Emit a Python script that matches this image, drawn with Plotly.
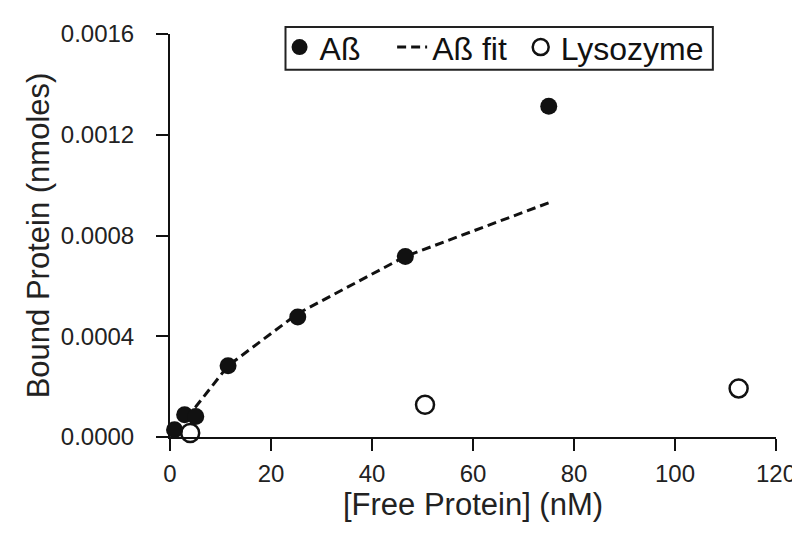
import plotly.graph_objects as go

# Aß binding data
abeta_x = [0.9, 2.9, 5.1, 11.5, 25.3, 46.6, 75.0]
abeta_y = [0.000029, 0.000088, 0.000081, 0.000283, 0.000476, 0.000717, 0.001313]

# Aß fit
fit_x = [2.9, 5.1, 11.5, 25.3, 46.6, 75.0]
fit_y = [0.00008, 0.00012, 0.000283, 0.000490, 0.000717, 0.000930]

# Lysozyme data
lys_x = [4.0, 50.5, 112.6]
lys_y = [0.000016, 0.000128, 0.000193]

x_ticks = [0, 20, 40, 60, 80, 100, 120]
y_ticks = [0.0, 0.0004, 0.0008, 0.0012, 0.0016]

NB = "\u00a0"
FONT = "Liberation Sans, Arial, sans-serif"
INK = "#111111"

fig = go.Figure()
fig.add_trace(go.Scatter(
    x=fit_x, y=fit_y, mode="lines", name="Aß fit" + NB,
    line=dict(color=INK, width=3, dash="9px,5px"),
    cliponaxis=False, legendrank=2,
))
fig.add_trace(go.Scatter(
    x=abeta_x, y=abeta_y, mode="markers", name="Aß" + NB * 3,
    marker=dict(symbol="circle", size=17, color=INK),
    cliponaxis=False, legendrank=1,
))
fig.add_trace(go.Scatter(
    x=lys_x, y=lys_y, mode="markers", name="Lysozyme",
    marker=dict(symbol="circle-open", size=18, color=INK, line=dict(width=2.5)),
    cliponaxis=False, legendrank=3,
))

# legend frame
fig.add_shape(type="rect", xref="paper", yref="paper",
              x0=0.1906, x1=0.8958, y0=0.9115, y1=1.0172,
              line=dict(color="#222222", width=2), fillcolor="rgba(0,0,0,0)", layer="above")

fig.update_layout(
    width=800, height=537,
    margin=dict(l=162, r=24, t=22, b=108),
    paper_bgcolor="white", plot_bgcolor="white",
    font=dict(family=FONT, color=INK),
    showlegend=True,
    legend=dict(
        orientation="h", x=0.1808, y=0.967, xanchor="left", yanchor="middle",
        font=dict(size=32, family=FONT, color=INK),
        borderwidth=0, bgcolor="rgba(0,0,0,0)",
        itemwidth=30,
    ),
)
fig.update_xaxes(
    range=[0, 120], tickvals=x_ticks, ticktext=[str(v) for v in x_ticks],
    showline=True, linecolor=INK, linewidth=2, mirror=False,
    ticks="outside", ticklen=12, tickwidth=2, tickcolor=INK,
    showgrid=False, zeroline=False, ticklabelstandoff=2,
    tickfont=dict(size=24, family=FONT, color="#222222"),
    title=dict(text="[Free Protein] (nM)", font=dict(size=31, family=FONT, color="#222222"), standoff=2),
)
fig.update_yaxes(
    range=[0, 0.0016], tickvals=y_ticks, ticktext=[f"{v:.4f}" for v in y_ticks],
    showline=True, linecolor=INK, linewidth=2, mirror=False,
    ticks="outside", ticklen=12, tickwidth=2, tickcolor=INK,
    showgrid=False, zeroline=False, ticklabelstandoff=17,
    tickfont=dict(size=24, family=FONT, color="#222222"),
    title=dict(text="Bound Protein (nmoles)", font=dict(size=31, family=FONT, color="#222222"), standoff=2),
)

fig.write_html("out.html")
